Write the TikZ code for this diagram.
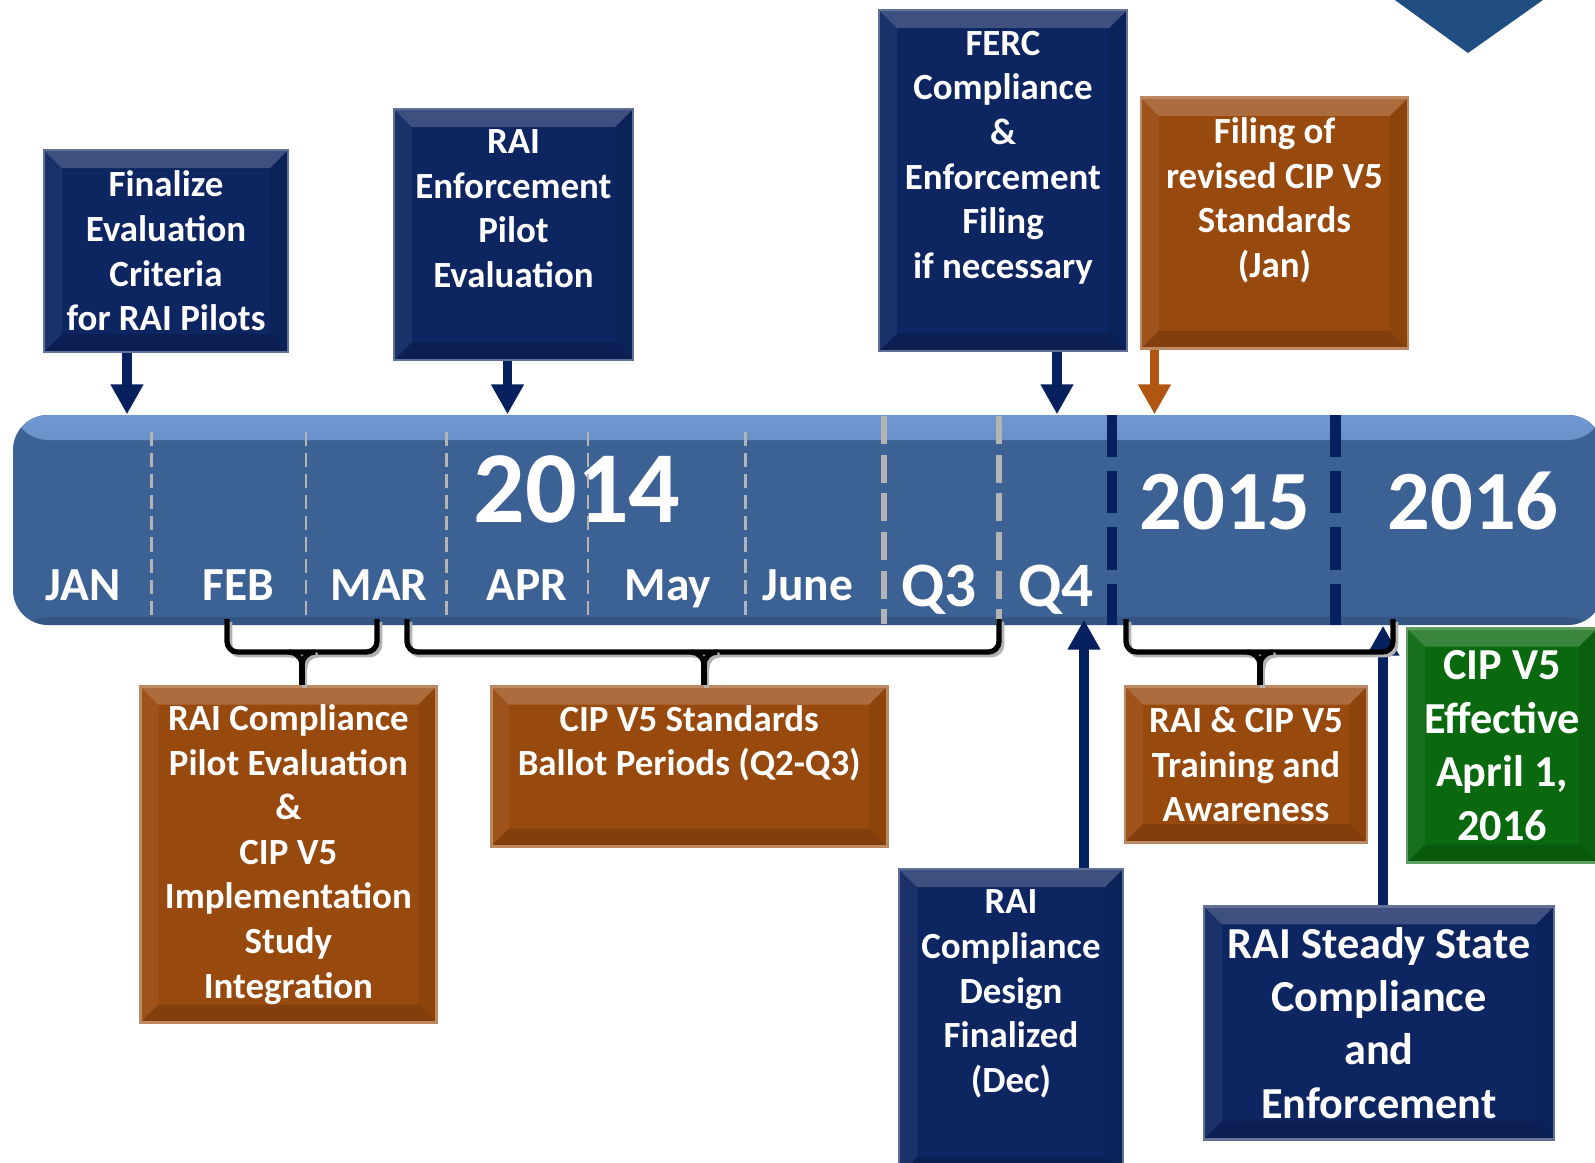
\documentclass[tikz,border=0pt]{standalone}
\usepackage{fontspec}
\setmainfont{Carlito}
\usetikzlibrary{arrows.meta,positioning}

\definecolor{navybox}{RGB}{13,37,96}
\definecolor{orangebox}{RGB}{152,73,14}
\definecolor{greenbox}{RGB}{10,104,14}
\definecolor{barblue}{RGB}{60,97,149}
\definecolor{barlight}{RGB}{112,152,208}
\definecolor{arrownavy}{RGB}{6,33,94}
\definecolor{arroworange}{RGB}{176,86,18}
\definecolor{sepgray}{RGB}{180,180,180}
\definecolor{cornerblue}{RGB}{32,78,130}

\tikzset{
  bevel/.style={path picture={
      \fill[white,opacity=.2] (path picture bounding box.north west) -- (path picture bounding box.north east)
        -- ++(-#1,-#1) -- ([shift={(#1,-#1)}]path picture bounding box.north west) -- cycle;
      \fill[white,opacity=.06] (path picture bounding box.north west) -- (path picture bounding box.south west)
        -- ++(#1,#1) -- ([shift={(#1,-#1)}]path picture bounding box.north west) -- cycle;
      \fill[black,opacity=.08] (path picture bounding box.north east) -- (path picture bounding box.south east)
        -- ++(-#1,#1) -- ([shift={(-#1,-#1)}]path picture bounding box.north east) -- cycle;
      \fill[black,opacity=.14] (path picture bounding box.south west) -- (path picture bounding box.south east)
        -- ++(-#1,#1) -- ([shift={(#1,#1)}]path picture bounding box.south west) -- cycle;
    }},
  bevel/.default=1.8mm,
  tlbox/.style={rectangle, inner sep=0pt, fill=#1, draw=#1!65!white, line width=.8pt, bevel,
    text=white, align=center, font=\bfseries\fontsize{10.5}{12.7}\selectfont},
  boxtext/.style={inner sep=0pt, text=white, align=center, font=\bfseries\fontsize{10.5}{12.7}\selectfont},
  bigtext/.style={font=\bfseries\fontsize{12.6}{15.2}\selectfont},
  month/.style={text=white, inner sep=0pt, anchor=base, font=\bfseries\fontsize{13.5}{16}\selectfont},
  quarter/.style={month, font=\bfseries\fontsize{18}{20}\selectfont},
  year/.style={month, font=\bfseries\fontsize{24}{26}\selectfont},
  monthsep/.style={draw=sepgray, line width=.7pt, dash pattern=on 4pt off 2pt},
  quartersep/.style={draw=sepgray, line width=1.5pt, dash pattern=on 8pt off 3pt},
  yearsep/.style={draw=arrownavy, line width=3pt, dash pattern=on 12pt off 4pt},
  navyarrow/.style={draw=arrownavy, line width=2.8pt, -{Triangle[width=3.1mm,length=3mm]}},
  orangearrow/.style={navyarrow, draw=arroworange},
  brace/.style={draw=black, line width=1.5pt, rounded corners=3pt,
    preaction={draw=black!30, line width=1.5pt, transform canvas={shift={(.8pt,-.8pt)}}}},
}

\begin{document}
\begin{tikzpicture}
\useasboundingbox (0,0) rectangle (15.95,-11.62);
\clip (0,0) rectangle (15.95,-11.62);

% corner marker, top right
\fill[cornerblue] (13.88,0.05) -- (14.68,-0.53) -- (15.5,0.05) -- cycle;

% the time line
\node[rectangle, rounded corners=3.5mm, fill=barblue, minimum width=15.9cm, minimum height=2.1cm,
  path picture={\shade[top color=barlight, bottom color=barblue] (path picture bounding box.north west)
    rectangle ([yshift=-2.5mm]path picture bounding box.north east);
    \fill[black,opacity=.12] (path picture bounding box.south west) rectangle ([yshift=.8mm]path picture bounding box.south east);}]
  (bar) at (8.08,-5.2) {};

\node[month] (jan) at (0.83,-6.0) {JAN};
\node[month] (feb) at (2.38,-6.0) {FEB};
\node[month] (mar) at (3.79,-6.0) {MAR};
\node[month] (apr) at (5.27,-6.0) {APR};
\node[month] (may) at (6.68,-6.0) {May};
\node[month] (jun) at (8.08,-6.0) {June};
\node[quarter] (q3) at (9.39,-6.06) {Q3};
\node[quarter] (q4) at (10.56,-6.06) {Q4};
\node[year, font=\bfseries\fontsize{29}{31}\selectfont] (y14) at (5.77,-5.22) {2014};
\node[year] (y15) at (12.25,-5.29) {2015};
\node[year] (y16) at (14.73,-5.29) {2016};

\foreach \x in {1.516,3.062,4.465,5.88,7.456}
  \draw[monthsep] (\x,-4.32) -- (\x,-6.17);
\foreach \x in {8.84,9.99}
  \draw[quartersep] (\x,-4.16) -- (\x,-6.24);
\foreach \x in {11.12,13.356}
  \draw[yearsep] (\x,-4.15) -- (\x,-6.25);

% boxes above the line
\node[tlbox=navybox, minimum width=2.44cm, minimum height=2.02cm] (fin) at (1.66,-2.51)
  {Finalize\\Evaluation\\Criteria\\for RAI Pilots};
\node[tlbox=navybox, minimum width=2.39cm, minimum height=2.51cm] (enf) at (5.135,-2.345) {};
\node[boxtext] (enf-t) at ([yshift=2.6mm]enf.center) {RAI\\Enforcement\\Pilot\\Evaluation};
\node[tlbox=navybox, minimum width=2.48cm, minimum height=3.41cm] (ferc) at (10.03,-1.805) {};
\node[boxtext] (ferc-t) at ([yshift=2.3mm]ferc.center)
  {FERC\\Compliance\\\&\\Enforcement\\Filing\\if necessary};
\node[tlbox=orangebox, minimum width=2.67cm, minimum height=2.51cm] (filing) at (12.745,-2.233) {};
\node[boxtext] (filing-t) at ([yshift=2.3mm]filing.center) {Filing of\\revised CIP V5\\Standards\\(Jan)};

% boxes below the line
\node[tlbox=orangebox, minimum width=2.96cm, minimum height=3.36cm] (pilot) at (2.884,-8.545)
  {RAI Compliance\\Pilot Evaluation\\\&\\CIP V5\\Implementation\\Study\\Integration};
\node[tlbox=orangebox, minimum width=3.96cm, minimum height=1.6cm] (ballot) at (6.892,-7.665) {};
\node[boxtext] (ballot-t) at ([yshift=2.3mm]ballot.center) {CIP V5 Standards\\Ballot Periods (Q2-Q3)};
\node[tlbox=navybox, minimum width=2.24cm, minimum height=3.06cm] (design) at (10.11,-10.22) {};
\node[boxtext] (design-t) at ([yshift=2.8mm]design.center) {RAI\\Compliance\\Design\\Finalized\\(Dec)};
\node[tlbox=orangebox, minimum width=2.42cm, minimum height=1.556cm] (train) at (12.46,-7.644)
  {RAI \& CIP V5\\Training and\\Awareness};
\node[tlbox=greenbox, bigtext, minimum width=1.9cm, minimum height=2.34cm] (eff) at (15.02,-7.456)
  {CIP V5\\Effective\\April 1,\\2016};
\node[tlbox=navybox, bigtext, minimum width=3.5cm, minimum height=2.33cm] (steady) at (13.79,-10.228)
  {RAI Steady State\\Compliance\\and\\Enforcement};

% arrows onto the line
\coordinate (a-fin) at ([xshift=-3.9mm]fin.south);
\coordinate (a-enf) at ([xshift=-0.6mm]enf.south);
\coordinate (a-ferc) at ([xshift=5.4mm]ferc.south);
\coordinate (a-filing) at ([xshift=-12mm]filing.south);
\coordinate (a-design) at ([xshift=7.3mm]design.north);
\coordinate (a-steady) at ([xshift=0.4mm]steady.north);
\draw[navyarrow] (a-fin) -- (a-fin |- bar.north);
\draw[navyarrow] (a-enf) -- (a-enf |- bar.north);
\draw[navyarrow] (a-ferc) -- (a-ferc |- bar.north);
\draw[orangearrow] (a-filing) -- (a-filing |- bar.north);
\draw[navyarrow] (a-design) -- ([yshift=.6mm]a-design |- bar.south);
\draw[navyarrow] (a-steady) -- (a-steady |- bar.south);

% brackets under the line
\coordinate (b1l) at (2.27,-6.19);  \coordinate (b1r) at (3.77,-6.19);  \coordinate (b1m) at (3.02,-6.52);
\coordinate (b2l) at (4.07,-6.19);  \coordinate (b2r) at (9.99,-6.19);  \coordinate (b2m) at (7.04,-6.52);
\coordinate (b3l) at (11.26,-6.19); \coordinate (b3r) at (13.93,-6.19); \coordinate (b3m) at (12.60,-6.52);
\foreach \b/\bx in {b1/pilot, b2/ballot, b3/train}{
  \draw[brace] (\b l) |- (\b m) -| (\b r);
  \draw[brace, rounded corners=0pt] ([xshift=-1.3mm]\b m) to[out=0,in=90] ([yshift=-1.3mm]\b m)
    to[out=90,in=180] ([xshift=1.3mm]\b m);
  \draw[brace, rounded corners=0pt] ([yshift=-1.3mm]\b m) -- (\b m |- \bx.north);
}
\end{tikzpicture}
\end{document}
